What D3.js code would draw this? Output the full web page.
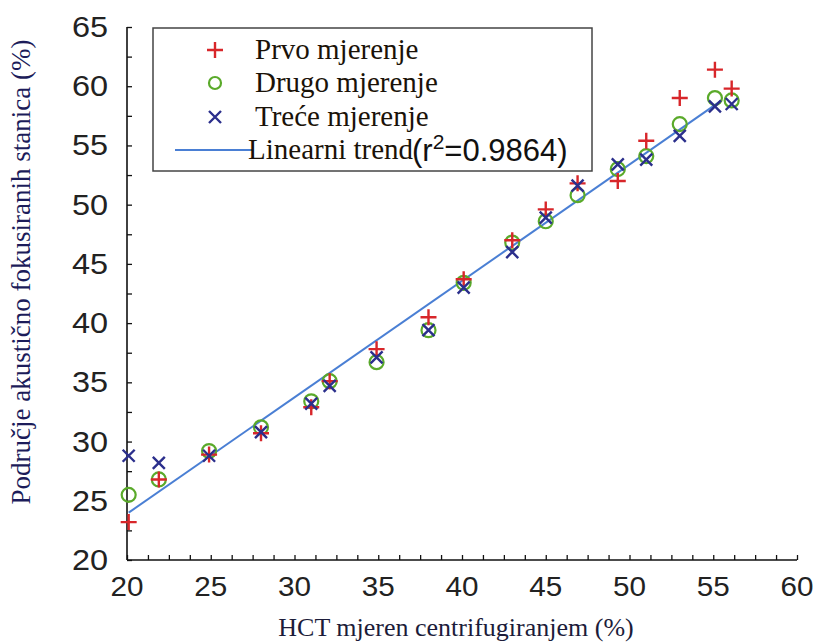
<!DOCTYPE html>
<html><head><meta charset="utf-8">
<script src="https://cdn.jsdelivr.net/npm/d3@7/dist/d3.min.js"></script>
<style>body{margin:0;background:#fff}svg{display:block}</style>
</head><body>
<svg id="c" width="813" height="642"></svg>
<script>
const hct   = [20.1, 21.9, 24.9, 28.0, 31.0, 32.1, 34.9, 38.0, 40.1, 43.0, 45.0, 46.9, 49.3, 51.0, 53.0, 55.1, 56.1];
const prvo  = [23.2, 26.8, 28.9, 30.7, 32.9, 35.1, 37.8, 40.5, 43.7, 47.0, 49.6, 51.8, 52.0, 55.4, 59.0, 61.4, 59.8];
const drugo = [25.5, 26.8, 29.2, 31.2, 33.4, 35.1, 36.7, 39.4, 43.4, 46.8, 48.6, 50.8, 53.0, 54.1, 56.8, 59.0, 58.8];
const trece = [28.8, 28.2, 28.8, 30.8, 33.2, 34.7, 37.1, 39.4, 43.0, 46.0, 48.9, 51.6, 53.4, 53.8, 55.8, 58.3, 58.5];
const trendX = [20.1, 55.5];
const trendY = [24.0, 58.8];
const xTicks = [20, 25, 30, 35, 40, 45, 50, 55, 60];
const yTicks = [20, 25, 30, 35, 40, 45, 50, 55, 60, 65];
const legendLabels = ["Prvo mjerenje", "Drugo mjerenje", "Treće mjerenje", "Linearni trend"];
const r2Label = "(r", r2Sup = "2", r2Val = "=0.9864)";
const xTitle = "HCT mjeren centrifugiranjem (%)";
const yTitle = "Područje akustično fokusiranih stanica (%)";

const svg = d3.select("#c");
const x = d3.scaleLinear().domain([20, 60]).range([127, 797]);
const y = d3.scaleLinear().domain([20, 65]).range([560, 27]);

const RED = "#d8262a", GREEN = "#5aaa2a", BLUE = "#2b2f8c", LINE = "#4a7fd4";
const sans = "Liberation Sans, Arial, Helvetica, sans-serif";
const serif = "Liberation Serif, Times New Roman, Times, DejaVu Serif, serif";

// axes
const xAxis = d3.axisBottom(x).tickValues(d3.range(20, 60.01, 1.25)).tickSize(-5).tickFormat("");
const yAxis = d3.axisLeft(y).tickValues(d3.range(20, 65.01, 2.5)).tickSize(-5).tickFormat("");
const gx = svg.append("g").attr("transform", "translate(0,560)").call(xAxis);
const gy = svg.append("g").attr("transform", "translate(127,0)").call(yAxis);
[gx, gy].forEach(g => {
  g.select(".domain").attr("stroke", "#111").attr("stroke-width", 1.6);
  g.selectAll(".tick line").attr("stroke", "#111").attr("stroke-width", 1.3);
});
gx.select(".domain").attr("d", `M127,0H797`);
gy.select(".domain").attr("d", `M0,560V27`);

svg.append("g").selectAll("text").data(xTicks).join("text")
  .attr("x", d => x(d)).attr("y", 596).attr("text-anchor", "middle")
  .attr("font-family", sans).attr("font-size", 28).attr("fill", "#222")
  .attr("transform", d => `translate(${x(d)},0) scale(1.06,1) translate(${-x(d)},0)`)
  .text(d => d);
svg.append("g").selectAll("text").data(yTicks).join("text")
  .attr("x", 108).attr("y", d => y(d) + 10).attr("text-anchor", "end")
  .attr("font-family", sans).attr("font-size", 29).attr("fill", "#222")
  .attr("transform", `translate(108,0) scale(1.12,1) translate(-108,0)`)
  .text(d => d);

// titles
svg.append("text").attr("x", 456).attr("y", 636).attr("text-anchor", "middle")
  .attr("font-family", serif).attr("font-size", 26).attr("fill", "#1c1c3a").text(xTitle);
svg.append("text").attr("transform", "translate(30,272) rotate(-90)").attr("text-anchor", "middle")
  .attr("font-family", serif).attr("font-size", 27).attr("fill", "#1c1c5a").text(yTitle);

// trend line
svg.append("path").datum(d3.zip(trendX, trendY))
  .attr("d", d3.line().x(d => x(d[0])).y(d => y(d[1])))
  .attr("stroke", LINE).attr("stroke-width", 2).attr("fill", "none");

// markers
function plus(g, cx, cy, s) { g.append("path").attr("d", `M${cx-s},${cy}H${cx+s}M${cx},${cy-s}V${cy+s}`).attr("stroke", RED).attr("stroke-width", 2.4).attr("fill", "none"); }
function cross(g, cx, cy, s) { g.append("path").attr("d", `M${cx-s},${cy-s}L${cx+s},${cy+s}M${cx-s},${cy+s}L${cx+s},${cy-s}`).attr("stroke", BLUE).attr("stroke-width", 2.4).attr("fill", "none"); }
function circ(g, cx, cy, r) { g.append("circle").attr("cx", cx).attr("cy", cy).attr("r", r).attr("stroke", GREEN).attr("stroke-width", 2.2).attr("fill", "none"); }

const gm = svg.append("g");
hct.forEach((h, i) => circ(gm, x(h), y(drugo[i]), 7));
hct.forEach((h, i) => plus(gm, x(h), y(prvo[i]), 8));
hct.forEach((h, i) => cross(gm, x(h), y(trece[i]), 6));

// legend
const lg = svg.append("g");
lg.append("rect").attr("x", 153).attr("y", 28).attr("width", 439).attr("height", 143)
  .attr("fill", "#fff").attr("stroke", "#444").attr("stroke-width", 1.5);
const rowY = [50, 83, 117, 150];
plus(lg, 215, rowY[0], 8);
circ(lg, 215, rowY[1], 6);
cross(lg, 215, rowY[2], 6);
lg.append("line").attr("x1", 175).attr("x2", 252).attr("y1", rowY[3]).attr("y2", rowY[3])
  .attr("stroke", LINE).attr("stroke-width", 2);
legendLabels.forEach((t, i) => {
  lg.append("text").attr("x", i === 3 ? 248 : 255).attr("y", rowY[i] + 9)
    .attr("font-family", serif).attr("font-size", 29).attr("fill", "#1a1208").text(t);
});
const rt = lg.append("text").attr("x", 412).attr("y", rowY[3] + 11)
  .attr("font-family", sans).attr("font-size", 31).attr("fill", "#111");
rt.append("tspan").text(r2Label);
rt.append("tspan").attr("dy", -12).attr("font-size", 21).text(r2Sup);
rt.append("tspan").attr("dy", 12).text(r2Val);
</script>
</body></html>
